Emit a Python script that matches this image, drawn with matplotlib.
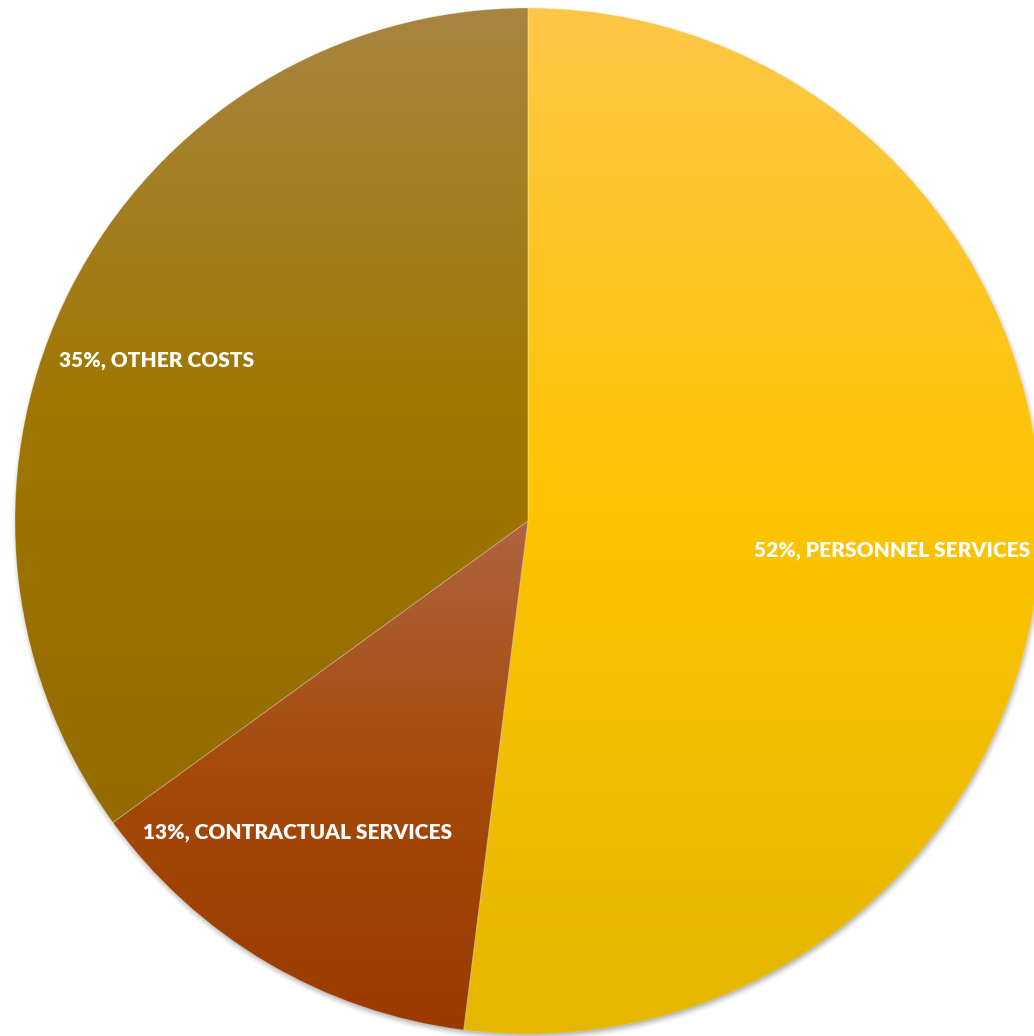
import numpy as np
import matplotlib
matplotlib.use("Agg")
import matplotlib.pyplot as plt
from matplotlib.colors import LinearSegmentedColormap

# Budget share by cost category
categories = ["PERSONNEL SERVICES", "CONTRACTUAL SERVICES", "OTHER COSTS"]
shares = [52, 13, 35]

# three-stop vertical gradients (top, middle, bottom) for each slice
gradients = [
    ["#FFC745", "#FCC400", "#E5B700"],
    ["#B0643F", "#A54A0A", "#9A3A00"],
    ["#A7853F", "#A07700", "#936B00"],
]

# label anchor offsets from the pie centre, in pixels (x right, y up)
label_offsets = [(364, -30), (-230, -311), (-371, 160)]

W, H = 1034, 1036
fig = plt.figure(figsize=(W / 100, H / 100), dpi=100)
ax = fig.add_axes([0, 0, 1, 1])

cx, cy = 528, H - 521
R = 513

# soft drop shadow under the pie
yy, xx = np.mgrid[0:H, 0:W]
d = np.hypot(xx + 0.5 - (cx + 1), (H - yy - 0.5) - (cy - 3))
blur = 5.0
a = np.clip((R + blur - d) / (2 * blur), 0, 1) ** 1.5 * 0.55
shadow = np.zeros((H, W, 4))
shadow[..., :3] = 0.25
shadow[..., 3] = a
ax.imshow(shadow, extent=(0, W, 0, H), origin="upper", zorder=0, interpolation="bilinear")

wedges, _ = ax.pie(
    shares,
    startangle=90,
    counterclock=False,
    center=(cx, cy),
    radius=R,
    frame=True,
    wedgeprops=dict(linewidth=0.6, edgecolor=(1, 1, 1, 0.25)),
)

for w, cols in zip(wedges, gradients):
    w.set_facecolor("none")
    w.set_zorder(3)
    bb = w.get_path().get_extents(w.get_patch_transform())
    cmap = LinearSegmentedColormap.from_list("g", cols)
    grad = np.linspace(0, 1, 256).reshape(-1, 1)
    im = ax.imshow(
        grad,
        cmap=cmap,
        extent=(bb.x0, bb.x1, bb.y0, bb.y1),
        origin="upper",
        aspect="auto",
        zorder=2,
        interpolation="bilinear",
    )
    im.set_clip_path(w)

for name, val, (dx, dy) in zip(categories, shares, label_offsets):
    ax.text(
        cx + dx, cy + dy, f"{val}%, {name}",
        ha="center", va="center", color="white",
        fontsize=15, fontweight="heavy", family="Lato", zorder=5,
    )

ax.set_xlim(0, W)
ax.set_ylim(0, H)
ax.set_aspect("equal")
ax.axis("off")
fig.savefig("out.png", dpi=100, facecolor="white")
